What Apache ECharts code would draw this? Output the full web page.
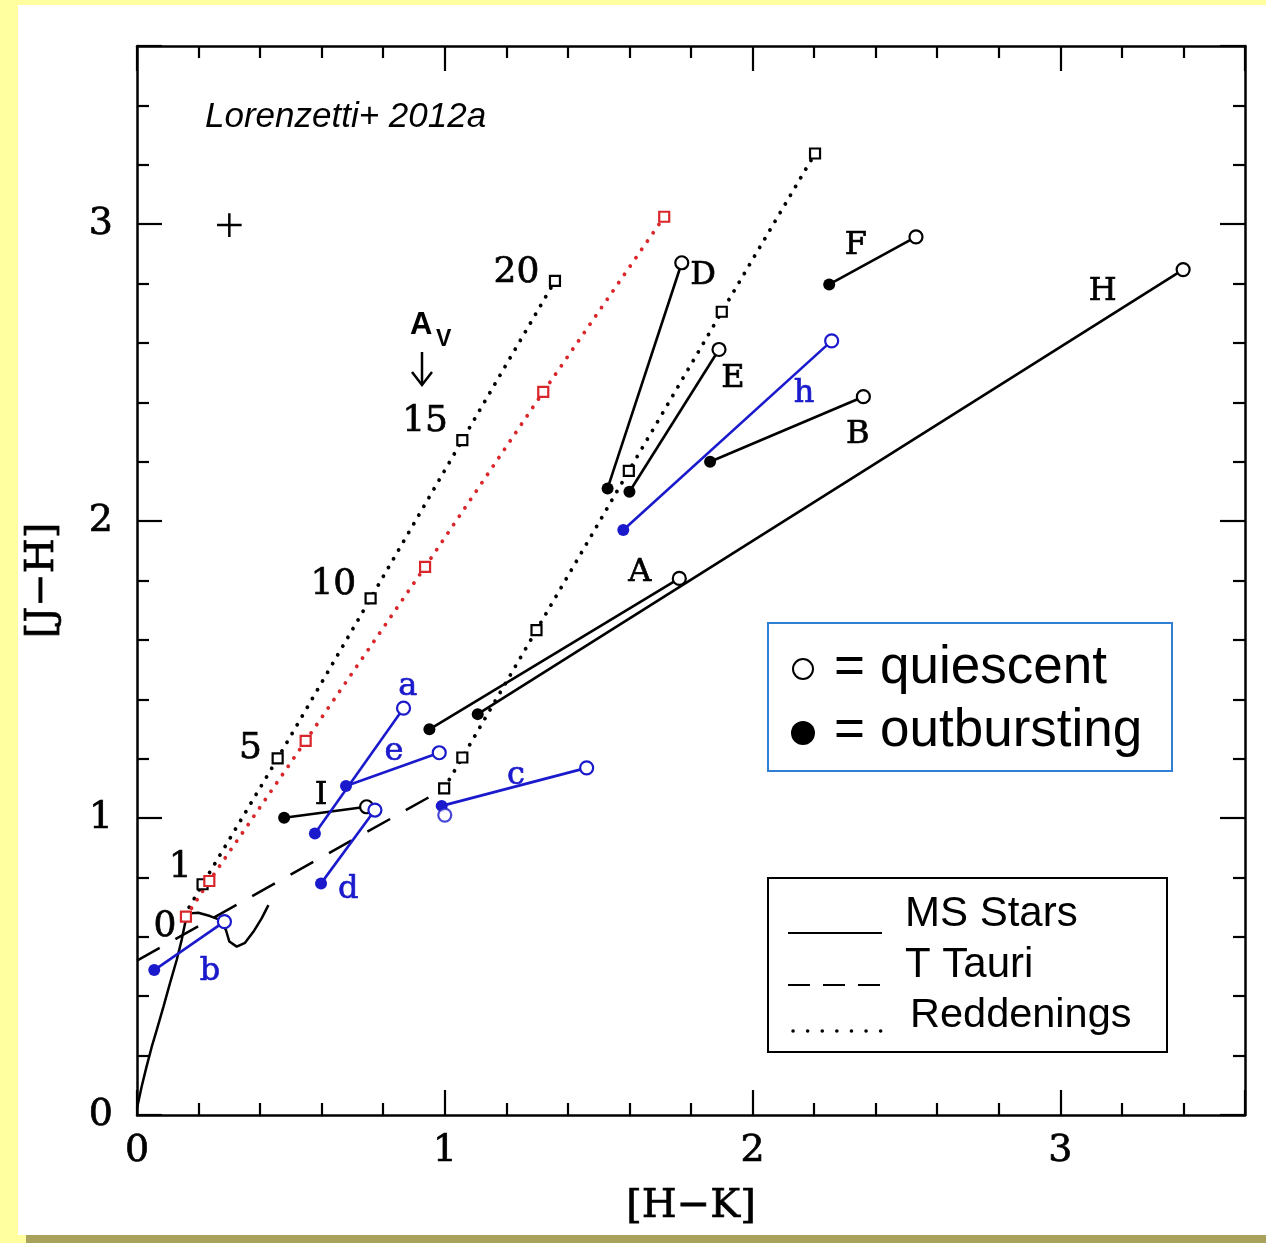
<!DOCTYPE html>
<html>
<head>
<meta charset="utf-8">
<script src="https://cdn.jsdelivr.net/npm/echarts@6/dist/echarts.min.js"></script>
<style>
  html, body { margin: 0; padding: 0; background: #ffff9f; }
  #card { position: absolute; left: 18px; top: 5px; width: 1248px; height: 1230px; background: #fff; }
  #shade { position: absolute; left: 26px; top: 1235px; width: 1240px; height: 8px; background: #a8a25c; }
  #chart { position: absolute; left: 0; top: 0; width: 1266px; height: 1243px; }
</style>
</head>
<body>
<div id="card"></div>
<div id="shade"></div>
<div id="chart"></div>
<script>
// main sequence locus [H-K, J-H]
const msStars = [
  [0.0, 0.023], [0.015, 0.095], [0.031, 0.163], [0.048, 0.23], [0.064, 0.286],
  [0.086, 0.365], [0.107, 0.443], [0.129, 0.522], [0.145, 0.589], [0.156, 0.645],
  [0.172, 0.679], [0.199, 0.681], [0.237, 0.670], [0.27, 0.657], [0.289, 0.623],
  [0.3, 0.584], [0.324, 0.567], [0.351, 0.58], [0.378, 0.617], [0.405, 0.662],
  [0.427, 0.707]
];
// T Tauri locus
const tTauri = [[0.0, 0.52], [1.0, 1.10]];

// reddening vectors, points at Av = 0, 1, 5, 10, 15, 20
const reddenLeft = [[0.153, 0.670], [0.213, 0.777], [0.457, 1.201], [0.759, 1.740], [1.057, 2.273], [1.358, 2.809]];
const reddenRed = [[0.159, 0.668], [0.235, 0.788], [0.548, 1.260], [0.936, 1.846], [1.320, 2.435], [1.713, 3.025]];
const reddenRight = [[0.998, 1.100], [1.057, 1.204], [1.298, 1.633], [1.598, 2.169], [1.900, 2.705], [2.203, 3.238]];
const avLabels = ['0', '1', '5', '10', '15', '20'];
const avLabelPos = [[0.091, 0.634], [0.14, 0.832], [0.369, 1.235], [0.638, 1.785], [0.936, 2.334], [1.233, 2.836]];

// sources: outbursting and quiescent colours
const starNames = ['A', 'B', 'D', 'E', 'F', 'H', 'I', 'a', 'b', 'c', 'd', 'e', 'h'];
const outburst = [
  [0.95, 1.299], [1.862, 2.2], [1.529, 2.11], [1.6, 2.099], [2.249, 2.797], [1.107, 1.35], [0.478, 1.001],
  [0.578, 0.948], [0.056, 0.488], [0.99, 1.041], [0.598, 0.78], [0.679, 1.108], [1.58, 1.97]
];
const quiescent = [
  [1.762, 1.807], [2.36, 2.419], [1.77, 2.87], [1.891, 2.578], [2.531, 2.957], [3.399, 2.847], [0.746, 1.038],
  [0.866, 1.37], [0.284, 0.651], [1.461, 1.169], [0.773, 1.027], [0.982, 1.22], [2.257, 2.607]
];
const starLabelPos = [
  [1.634, 1.825], [2.342, 2.290], [1.839, 2.828], [1.936, 2.481], [2.336, 2.929], [3.138, 2.771], [0.598, 1.077],
  [0.88, 1.444], [0.237, 0.481], [1.231, 1.141], [0.686, 0.758], [0.835, 1.222], [2.167, 2.428]
];
const loneQuiescent = [[1.0, 1.01]];

// typical error bar
const errCenter = [0.30, 2.997];
const errHalf = [0.04, 0.04];

const BLUE = '#1a1acc';
const RED = '#d8262b';
const SERIF = 'DejaVu Serif';
const SANS = 'Liberation Sans, Arial, sans-serif';

const chart = echarts.init(document.getElementById('chart'), null, { renderer: 'canvas' });

function makeAxis(dim, pos, showLabel) {
  const ax = {
    type: 'value', min: 0, max: 3.6, interval: 1, position: pos,
    axisLine: { onZero: false, lineStyle: { color: '#000', width: 2.5 } },
    axisTick: { inside: true, length: 25, lineStyle: { color: '#000', width: 2.2 } },
    minorTick: { show: true, splitNumber: 5, length: 12, lineStyle: { color: '#000', width: 2.2 } },
    splitLine: { show: false },
    axisLabel: {
      show: showLabel, color: '#000', fontFamily: SERIF, fontSize: 38,
      textBorderColor: '#000', textBorderWidth: 0.7,
      margin: dim === 'x' ? 17 : 24,
      formatter: v => (Number.isInteger(v) ? String(v) : '')
    }
  };
  if (showLabel) {
    ax.name = dim === 'x' ? '[H\u2212K]' : '[J\u2212H]';
    ax.nameLocation = 'middle';
    ax.nameGap = dim === 'x' ? 72 : 74;
    ax.nameTextStyle = { color: '#000', fontFamily: SERIF, fontSize: 40, textBorderColor: '#000', textBorderWidth: 0.7 };
  }
  return ax;
}

function reddening(data, color, labelled) {
  return {
    type: 'line', data: data.map((p, i) => ({ value: p, symbol: (labelled && i === 0) ? 'none' : 'rect' })),
    symbol: 'rect', symbolSize: 10, showSymbol: true,
    lineStyle: { color: color, width: 3.8, type: [0.1, 10], cap: 'round' },
    itemStyle: { color: '#fff', borderColor: color, borderWidth: 2.2 },
    z: 3
  };
}

const series = [
  { type: 'line', data: msStars, showSymbol: false, lineStyle: { color: '#000', width: 2.5 }, z: 2 },
  { type: 'line', data: tTauri, showSymbol: false, lineStyle: { color: '#000', width: 2.5, type: [26, 18] }, z: 2 },
  reddening(reddenLeft, '#000', true),
  reddening(reddenRight, '#000', false),
  reddening(reddenRed, RED, false),
  {
    type: 'line', showSymbol: false, lineStyle: { color: '#000', width: 2.5 },
    data: [[errCenter[0] - errHalf[0], errCenter[1]], [errCenter[0] + errHalf[0], errCenter[1]]]
  },
  {
    type: 'line', showSymbol: false, lineStyle: { color: '#000', width: 2.5 },
    data: [[errCenter[0], errCenter[1] - errHalf[1]], [errCenter[0], errCenter[1] + errHalf[1]]]
  }
];

starNames.forEach((name, i) => {
  const c = name === name.toUpperCase() ? '#000' : BLUE;
  series.push({
    type: 'line', z: 5, symbol: 'circle', showSymbol: true,
    lineStyle: { color: c, width: 2.6 },
    data: [
      { value: outburst[i], symbolSize: 12, itemStyle: { color: c, borderWidth: 0 } },
      { value: quiescent[i], symbolSize: 13, itemStyle: { color: '#fff', borderColor: c, borderWidth: 2.2 } }
    ]
  });
});
series.push({
  type: 'scatter', z: 5, symbol: 'circle', symbolSize: 13,
  itemStyle: { color: '#fff', borderColor: BLUE, borderWidth: 2.2 },
  data: loneQuiescent
});

const graphic = [
  { type: 'text', left: 205, top: 100, style: { text: 'Lorenzetti+ 2012a', font: 'italic 35px ' + SANS, fill: '#000' } },
  { type: 'text', left: 410, top: 310, style: { text: 'A', font: 'bold 31px ' + SANS, fill: '#000' } },
  { type: 'text', left: 436, top: 328, style: { text: 'V', font: 'bold 23px ' + SANS, fill: '#000' } },
  { type: 'polyline', shape: { points: [[422, 352], [422, 384]] }, style: { stroke: '#000', lineWidth: 2.5 } },
  { type: 'polyline', shape: { points: [[412, 372], [422, 385], [432, 372]] }, style: { stroke: '#000', lineWidth: 2.5, fill: null } },

  // legend 1
  { type: 'rect', shape: { x: 768, y: 623, width: 404, height: 148 }, style: { fill: '#fff', stroke: '#2f7fd4', lineWidth: 2 } },
  { type: 'circle', shape: { cx: 803, cy: 669, r: 10 }, style: { fill: '#fff', stroke: '#000', lineWidth: 2 } },
  { type: 'text', x: 834, y: 668, style: { text: '=', font: '53px ' + SANS, fill: '#000', verticalAlign: 'middle' } },
  { type: 'text', x: 880, y: 668, style: { text: 'quiescent', font: '53px ' + SANS, fill: '#000', verticalAlign: 'middle' } },
  { type: 'circle', shape: { cx: 803, cy: 733, r: 12 }, style: { fill: '#000' } },
  { type: 'text', x: 834, y: 731, style: { text: '=', font: '53px ' + SANS, fill: '#000', verticalAlign: 'middle' } },
  { type: 'text', x: 880, y: 731, style: { text: 'outbursting', font: '53px ' + SANS, fill: '#000', verticalAlign: 'middle' } },

  // legend 2
  { type: 'rect', shape: { x: 768, y: 878, width: 399, height: 174 }, style: { fill: '#fff', stroke: '#000', lineWidth: 2 } },
  { type: 'line', shape: { x1: 788, y1: 933, x2: 882, y2: 933 }, style: { stroke: '#000', lineWidth: 2 } },
  { type: 'line', shape: { x1: 788, y1: 985, x2: 882, y2: 985 }, style: { stroke: '#000', lineWidth: 2, lineDash: [22, 13] } },
  { type: 'line', shape: { x1: 793, y1: 1031, x2: 882, y2: 1031 }, style: { stroke: '#000', lineWidth: 3.5, lineDash: [0.1, 14.5], lineCap: 'round' } },
  { type: 'text', x: 905, y: 914, style: { text: 'MS Stars', font: '42px ' + SANS, fill: '#000', verticalAlign: 'middle' } },
  { type: 'text', x: 905, y: 965, style: { text: 'T Tauri', font: '42px ' + SANS, fill: '#000', verticalAlign: 'middle' } },
  { type: 'text', x: 910, y: 1016, style: { text: 'Reddenings', font: '41.5px ' + SANS, fill: '#000', verticalAlign: 'middle' } }
];

const option = {
  animation: false,
  backgroundColor: 'transparent',
  grid: { left: 137, top: 46, right: 21, bottom: 128, outerBoundsMode: 'none' },
  xAxis: [makeAxis('x', 'bottom', true), makeAxis('x', 'top', false)],
  yAxis: [makeAxis('y', 'left', true), makeAxis('y', 'right', false)],
  series: series,
  graphic: graphic
};
chart.setOption(option);

// annotation texts placed at data coordinates through the axes
function dataText(text, pos, size, color) {
  const p = chart.convertToPixel({ xAxisIndex: 0, yAxisIndex: 0 }, pos);
  return {
    type: 'text', x: p[0], y: p[1], z: 10,
    style: {
      text: text, font: size + 'px ' + SERIF, fill: color, stroke: color, lineWidth: 0.7,
      align: 'center', verticalAlign: 'middle'
    }
  };
}
const labelGraphics = starNames.map((n, i) =>
  dataText(n, starLabelPos[i], 32, n === n.toUpperCase() ? '#000' : BLUE));
avLabels.forEach((t, i) => labelGraphics.push(dataText(t, avLabelPos[i], 36, '#000')));
chart.setOption({ graphic: graphic.concat(labelGraphics) });
</script>
</body>
</html>
